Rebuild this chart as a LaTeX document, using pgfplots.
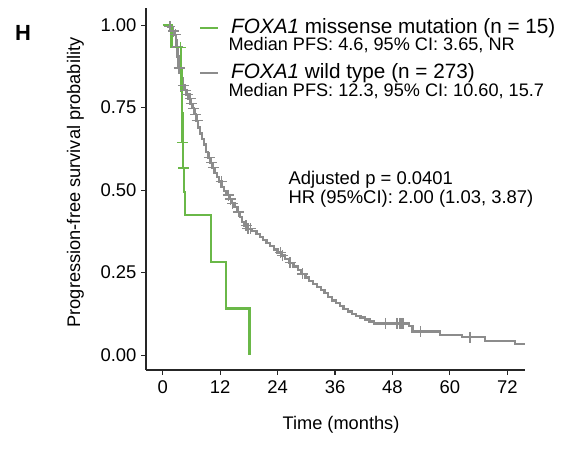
\documentclass[border=0pt]{standalone}
\usepackage{pgfplots}
\pgfplotsset{compat=1.18}
\usepackage{fontspec}
\setmainfont{Liberation Sans}
\definecolor{kmgreen}{RGB}{106,184,72}
\definecolor{kmgray}{RGB}{140,140,140}
\begin{document}
\begin{tikzpicture}[x=1bp,y=1bp]
\path[use as bounding box] (0,0) rectangle (572,450);
\begin{axis}[
  at={(146bp,80bp)}, anchor=south west,
  scale only axis, width=379bp, height=362bp,
  xmin=-3.5, xmax=75.7, ymin=-0.045, ymax=1.052,
  axis x line*=bottom, axis y line*=left,
  axis line style={line width=1.2bp, black!85, -},
  xtick={0,12,...,72}, ytick={0,0.25,0.5,0.75,1},
  yticklabel style={xshift=-1bp, /pgf/number format/fixed, /pgf/number format/fixed zerofill, /pgf/number format/precision=2},
  /pgf/number format/assume math mode=true,
  tick style={line width=1.2bp, black!85},
  major tick length=5bp, tick align=outside,
  ticklabel style={font=\fontsize{18.5}{20}\selectfont, black},
  xticklabel style={yshift=-2bp},
  xlabel={Time (months)}, ylabel={Progression-free survival probability},
  xlabel style={at={(axis description cs:0.5145,-0.1657)}, anchor=base, font=\fontsize{18.3}{20}\selectfont},
  ylabel style={at={(axis description cs:-0.1741,0.518)}, anchor=base, font=\fontsize{18.3}{20}\selectfont},
  clip=false,
]
% FOXA1 wild type
\addplot[const plot, kmgray, line width=2.3bp] coordinates {
(0,1.000)(1.2,0.996)(1.6,0.989)(2.0,0.982)(2.4,0.971)(2.7,0.956)(2.9,0.934)
(3.1,0.905)(3.3,0.870)(3.6,0.855)(3.9,0.838)(4.2,0.817)(4.6,0.803)(5.0,0.790)
(5.4,0.777)(5.8,0.762)(6.2,0.748)(6.6,0.730)(7.0,0.710)(7.4,0.690)(7.8,0.672)
(8.2,0.655)(8.6,0.638)(9.0,0.615)(9.4,0.598)(9.8,0.583)(10.3,0.568)(10.8,0.553)
(11.3,0.540)(11.8,0.526)(12.3,0.510)(12.8,0.497)(13.3,0.485)(13.8,0.473)
(14.4,0.460)(15.0,0.448)(15.6,0.434)(16.1,0.419)(16.6,0.404)(17.1,0.392)
(17.5,0.383)(18.7,0.376)(19.6,0.367)(20.3,0.357)(21.0,0.349)(21.7,0.340)
(22.4,0.331)(23.2,0.320)(24.0,0.311)(24.8,0.302)(25.6,0.291)(26.5,0.280)
(27.3,0.269)(28.2,0.257)(29.0,0.246)(29.8,0.235)(30.6,0.224)(31.4,0.215)
(32.2,0.207)(33.0,0.198)(33.8,0.188)(34.6,0.177)(35.4,0.166)(36.2,0.157)
(37.0,0.148)(37.8,0.139)(38.7,0.132)(39.5,0.125)(40.4,0.119)(41.3,0.114)
(42.3,0.108)(43.2,0.102)(44.2,0.096)(51.4,0.088)(52.2,0.072)(57.9,0.062)
(62.5,0.054)(67.3,0.043)(73.6,0.033)(75.7,0.033)
};
\addplot[only marks, mark=+, kmgray, mark size=5.5bp, mark options={line width=1.2bp}] coordinates {
(1.5,0.996)(2.2,0.982)(2.6,0.971)(3.0,0.934)(3.4,0.870)(4.3,0.817)(4.8,0.803)
(5.2,0.790)(5.7,0.777)(6.0,0.762)(6.5,0.748)(6.8,0.730)(7.2,0.710)(9.7,0.598)
(10.2,0.583)(10.6,0.568)(12.2,0.526)(13.7,0.485)(14.2,0.473)(14.6,0.460)
(15.8,0.434)(17.4,0.392)(17.8,0.383)(18.3,0.383)(24.6,0.311)(25.0,0.302)
(26.6,0.280)(29.2,0.246)(46.6,0.096)(48.8,0.096)(49.1,0.096)(49.4,0.096)
(49.7,0.096)(50.0,0.096)(50.3,0.096)(53.8,0.072)(64.2,0.054)
};
% FOXA1 missense
\addplot[const plot, kmgreen, line width=2.3bp] coordinates {
(0,1.000)(1.8,0.933)(3.8,0.867)(3.9,0.800)(4.0,0.733)(4.1,0.645)(4.3,0.567)
(4.5,0.494)(4.6,0.424)(10.1,0.283)(13.2,0.141)(18.1,0)
};
\addplot[only marks, mark=+, kmgreen, mark size=5.5bp, mark options={line width=1.2bp}] coordinates {
(3.7,0.933)(4.2,0.645)(4.4,0.567)
};
\end{axis}
% panel letter
\node[anchor=base west, inner sep=0, font=\fontsize{22}{24}\selectfont\bfseries] at (15,409) {H};
% legend
\draw[kmgreen, line width=2.3bp] (200,421.7) -- (218.3,421.7);
\node[anchor=base west, inner sep=0, font=\fontsize{20.8}{22}\selectfont] at (231,416.9) {\textit{FOXA1} missense mutation (n = 15)};
\node[anchor=base west, inner sep=0, font=\fontsize{18.2}{20}\selectfont] at (228.3,399.8) {Median PFS: 4.6, 95\% CI: 3.65, NR};
\draw[kmgray, line width=2.3bp] (200,376.7) -- (218.3,376.7);
\node[anchor=base west, inner sep=0, font=\fontsize{20.8}{22}\selectfont] at (231,371.7) {\textit{FOXA1} wild type (n = 273)};
\node[anchor=base west, inner sep=0, font=\fontsize{18.2}{20}\selectfont] at (228.3,353.8) {Median PFS: 12.3, 95\% CI: 10.60, 15.7};
% annotation
\node[anchor=base west, inner sep=0, font=\fontsize{18.5}{20}\selectfont] at (288.3,265) {Adjusted p = 0.0401};
\node[anchor=base west, inner sep=0, font=\fontsize{18.5}{20}\selectfont] at (288.3,246.7) {HR (95\%CI): 2.00 (1.03, 3.87)};
\end{tikzpicture}
\end{document}
